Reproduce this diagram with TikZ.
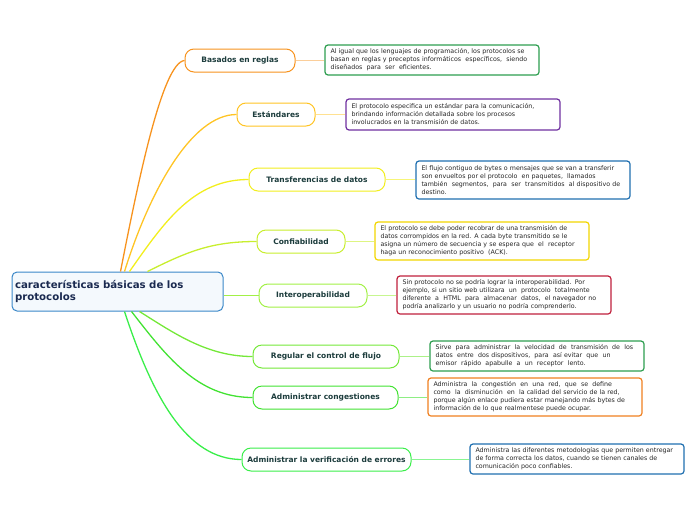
\documentclass[tikz,border=0pt]{standalone}
\usepackage{fontspec}
\setmainfont{DejaVu Sans}
\usetikzlibrary{positioning}

\definecolor{rootblue}{HTML}{3A87C8}
\definecolor{rootfill}{HTML}{F4F9FD}
\definecolor{rootink}{HTML}{1A2A50}
\definecolor{topicink}{HTML}{1C3C3C}
\definecolor{cOrange}{HTML}{F7931E}
\definecolor{cAmber}{HTML}{FFC424}
\definecolor{cYellow}{HTML}{F2EE1E}
\definecolor{cLime}{HTML}{C8EE2E}
\definecolor{cLight}{HTML}{A2F046}
\definecolor{cGreenA}{HTML}{74E838}
\definecolor{cGreenB}{HTML}{42E232}
\definecolor{cGreenC}{HTML}{3AEE4A}
\definecolor{bGreen}{HTML}{2E9E50}
\definecolor{bPurple}{HTML}{7030A0}
\definecolor{bBlue}{HTML}{1F6FB0}
\definecolor{bYellow}{HTML}{F2D600}
\definecolor{bRed}{HTML}{C0203C}
\definecolor{bOrange}{HTML}{F08020}

\begin{document}
\begin{tikzpicture}[x=1pt, y=-1pt,
  rootbox/.style={draw=rootblue, line width=1pt, fill=rootfill, rounded corners=5pt,
    minimum width=211pt, minimum height=39pt, text width=205pt, inner xsep=3pt,
    align=left, font=\fontsize{10.2}{11.5}\selectfont\bfseries, text=rootink},
  topic/.style={draw=#1, line width=1pt, fill=white, rounded corners=9pt,
    minimum height=23pt, inner xsep=4pt, font=\fontsize{7.5}{9}\selectfont\bfseries, text=topicink},
  note/.style={draw=#1, line width=1.2pt, fill=white, rounded corners=3pt,
    text width=203pt, inner xsep=5.5pt, inner ysep=3pt, align=left,
    font=\fontsize{6.3}{8}\selectfont, text=black!85},
  branch/.style={draw=#1, line width=1.3pt},
  twig/.style={draw=#1, line width=0.6pt}]
  \useasboundingbox (0,0) rectangle (696,520);

  % Central topic
  \node[rootbox] (root) at (117.5,291.5) {caracter\'isticas b\'asicas de los\\protocolos};

  % Main topics
  \node[topic=cOrange, minimum width=110pt] (reglas) at (240,60.5) {Basados en reglas};
  \node[topic=cAmber, minimum width=78pt] (estandar) at (276,114.5) {Est\'andares};
  \node[topic=cYellow, minimum width=136pt] (transf) at (317,179.5) {Transferencias de datos};
  \node[topic=cLime, minimum width=88pt] (confia) at (301,241.5) {Confiabilidad};
  \node[topic=cLight, minimum width=108pt] (interop) at (313,295.5) {Interoperabilidad};
  \node[topic=cGreenA, minimum width=146pt] (flujo) at (326,356.5) {Regular el control de flujo};
  \node[topic=cGreenB, minimum width=145pt] (congest) at (325.5,397.5) {Administrar congestiones};
  \node[topic=cGreenC, minimum width=169pt] (errores) at (326.5,459.5) {Administrar la verificaci\'on de errores};

  % Notes
  \node[note=bGreen, minimum height=30pt] (nreglas) at (432,60) {Al igual que los lenguajes de programaci\'on, los protocolos se\\basan en reglas y preceptos inform\'aticos\ \ espec\'ificos,\ \ siendo\\dise\~nados\ \ para\ \ ser\ \ eficientes.};
  \node[note=bPurple, minimum height=31pt] (nestandar) at (453,114.5) {El protocolo especifica un est\'andar para la comunicaci\'on,\\brindando informaci\'on detallada sobre los procesos\\involucrados en la transmisi\'on de datos.};
  \node[note=bBlue, minimum height=38pt] (ntransf) at (523,180) {El flujo contiguo de bytes o mensajes que se van a transferir\\son envueltos por el protocolo\ \ en paquetes,\ \ llamados\\tambi\'en\ \ segmentos,\ \ para\ \ ser\ \ transmitidos\ \ al dispositivo de\\destino.};
  \node[note=bYellow, minimum height=38pt] (nconfia) at (482,241) {El protocolo se debe poder recobrar de una transmisi\'on de\\datos corrompidos en la red. A cada byte transmitido se le\\asigna un n\'umero de secuencia y se espera que\ \ el\ \ receptor\\haga un reconocimiento positivo\ \ (ACK).};
  \node[note=bRed, minimum height=38pt] (ninterop) at (504,295) {Sin protocolo no se podr\'ia lograr la interoperabilidad. Por\\ejemplo, si un sitio web utilizara\ \ un\ \ protocolo\ \ totalmente\\diferente\ \ a\ \ HTML\ \ para\ \ almacenar\ \ datos,\ \ el navegador no\\podr\'ia analizarlo y un usuario no podr\'ia comprenderlo.};
  \node[note=bGreen, minimum height=30pt] (nflujo) at (537,356) {Sirve\ \ para\ \ administrar\ \ la\ \ velocidad\ \ de\ \ transmisi\'on\ \ de\ \ los\\datos\ \ entre\ \ dos dispositivos,\ \ para\ \ as\'i evitar\ \ que\ \ un\\emisor\ \ r\'apido\ \ apabulle\ \ a\ \ un\ \ receptor\ \ lento.};
  \node[note=bOrange, minimum height=38pt] (ncongest) at (535,397) {Administra\ \ la\ \ congesti\'on\ \ en\ \ una\ \ red,\ \ que\ \ se\ \ define\\como\ \ la\ \ disminuci\'on\ \ en\ \ la calidad del servicio de la red,\\porque alg\'un enlace pudiera estar manejando m\'as bytes de\\informaci\'on de lo que realmentese puede ocupar.};
  \node[note=bBlue, minimum height=30pt] (nerrores) at (577,459) {Administra las diferentes metodolog\'ias que permiten entregar\\de forma correcta los datos, cuando se tienen canales de\\comunicaci\'on poco confiables.};

  % Branches from the central topic
  \draw[branch=cOrange] ([xshift=109pt]root.north west) .. controls +(18,-92) and +(-22,2) .. (reglas.west);
  \draw[branch=cAmber] ([xshift=113pt]root.north west) .. controls +(25,-80) and +(-45,0) .. (estandar.west);
  \draw[branch=cYellow] ([xshift=118pt]root.north west) .. controls +(35,-50) and +(-55,0) .. (transf.west);
  \draw[branch=cLime] ([xshift=136pt]root.north west) .. controls +(40,-20) and +(-45,0) .. (confia.west);
  \draw[branch=cLight] (root.east |- interop.west) -- (interop.west);
  \draw[branch=cGreenA] ([xshift=128pt]root.south west) .. controls +(35,22) and +(-45,0) .. (flujo.west);
  \draw[branch=cGreenB] ([xshift=120pt]root.south west) .. controls +(35,45) and +(-55,0) .. (congest.west);
  \draw[branch=cGreenC] ([xshift=113pt]root.south west) .. controls +(28,85) and +(-55,0) .. (errores.west);

  % Topic to note
  \draw[twig=cOrange!45] (reglas.east) -- (nreglas.west |- reglas.east);
  \draw[twig=cAmber!50] (estandar.east) -- (nestandar.west |- estandar.east);
  \draw[twig=cYellow!60] (transf.east) -- (ntransf.west |- transf.east);
  \draw[twig=cLime!60] (confia.east) -- (nconfia.west |- confia.east);
  \draw[twig=cLight!60] (interop.east) -- (ninterop.west |- interop.east);
  \draw[twig=cGreenA!60] (flujo.east) -- (nflujo.west |- flujo.east);
  \draw[twig=cGreenB!60] (congest.east) -- (ncongest.west |- congest.east);
  \draw[twig=cGreenC!60] (errores.east) -- (nerrores.west |- errores.east);
\end{tikzpicture}
\end{document}
